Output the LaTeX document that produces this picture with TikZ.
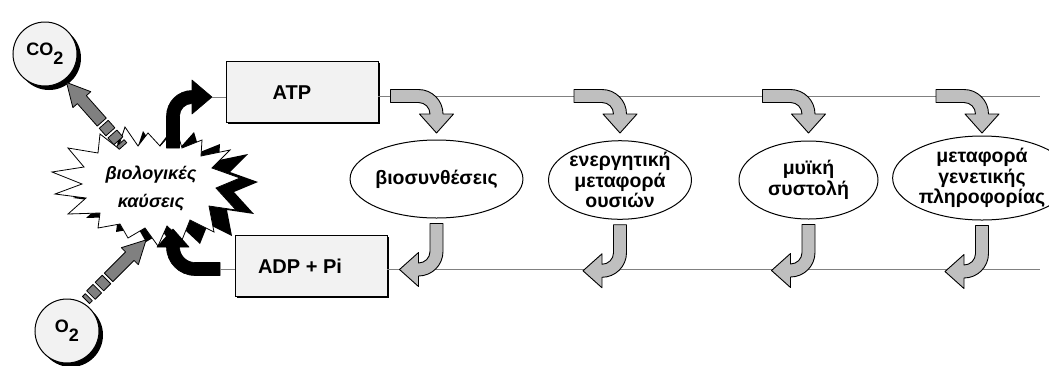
\documentclass[tikz,border=0pt]{standalone}
\usepackage{fontspec}
\setmainfont{Liberation Sans}
\usetikzlibrary{shapes.geometric,shadows}

\tikzset{
  greyturn/.style={fill=black!25, draw=black, line width=0.9pt, line join=round},
  blackturn/.style={fill=black, draw=black, line width=0.6pt, line join=round},
  gasflow/.style={fill=black!50, draw=black, line width=0.8pt, line join=round},
  rail/.style={draw=black!50, line width=0.5pt},
  energybox/.style={rectangle, draw=black, line width=0.8pt, fill=black!5,
    minimum width=152pt, minimum height=61pt, inner sep=0pt,
    drop shadow={shadow xshift=2pt, shadow yshift=-2pt, opacity=1, fill=black}},
  boxtext/.style={font=\fontsize{20}{22}\selectfont\bfseries, inner sep=0pt},
  process/.style={ellipse, draw=black, line width=1pt, fill=white,
    minimum width=139pt, minimum height=78pt, inner sep=0pt, align=center,
    font=\fontsize{19.5}{20.5}\selectfont\bfseries},
  gas/.style={circle, draw=black, line width=1pt, fill=black!5,
    minimum size=64pt, inner sep=0pt,
    font=\fontsize{18}{20}\selectfont\bfseries,
    drop shadow={shadow xshift=4pt, shadow yshift=-4pt, opacity=1, fill=black}},
  bursttext/.style={align=center, inner sep=0pt,
    font=\fontsize{18}{28}\selectfont\bfseries\itshape},
  % grey arrow: enters horizontally, turns down onto a process
  downturn/.pic={
    \path[greyturn] (-46,-6.5) -- (-18,-6.5)
      arc[start angle=-90, end angle=0, radius=24.5]
      -- (17,18) -- (0,37) -- (-17,18) -- (-6.5,18)
      arc[start angle=0, end angle=-90, radius=11.5]
      -- (-46,6.5) -- cycle;
  },
  % grey arrow: leaves a process downwards, turns left onto the lower rail
  leftturn/.pic={
    \path[greyturn] (-6.5,0) -- (6.5,0) -- (6.5,28)
      arc[start angle=0, end angle=90, radius=24.5]
      -- (-18,63) -- (-37,46) -- (-18,29) -- (-18,39.5)
      arc[start angle=90, end angle=0, radius=11.5]
      -- cycle;
  },
  % segmented gas arrow along the local x axis
  gasarrow/.pic={
    \path[gasflow] (0,-5) rectangle (4,5);
    \path[gasflow] (7,-6) rectangle (16,6);
    \path[gasflow] (19,-6) rectangle (29,6);
    \path[gasflow] (32,-6) -- (62,-6) -- (62,-12) -- (85,0)
      -- (62,12) -- (62,6) -- (32,6) -- cycle;
  },
  % explosion outline of the combustion
  burst/.pic={
    \path[pic actions] (52,172) -- (84,167) -- (68,148) -- (98,153)
      -- (100,134) -- (118,148) -- (125,127) -- (138,146) -- (148,133)
      -- (160,146) -- (176,128) -- (182,148) -- (202,140) -- (201,156)
      -- (230,150) -- (212,168) -- (240,178) -- (216,188) -- (236,210)
      -- (209,206) -- (214,232) -- (190,220) -- (182,240) -- (167,226)
      -- (158,246) -- (145,228) -- (128,238) -- (120,224) -- (98,228)
      -- (100,213) -- (68,214) -- (86,198) -- (55,194) -- (82,184) -- cycle;
  },
}

\begin{document}
\begin{tikzpicture}[x=1pt, y=-1pt]
\useasboundingbox (0,0) rectangle (1049,365);

% rails between the energy boxes and the processes
\node[energybox] (atp) at (302,91.5) {};
\node[energybox] (adp) at (311,265.5) {};
\node[boxtext] (atplabel) at ([xshift=-10pt, yshift=-1pt]atp.center) {ATP};
\node[boxtext] (adplabel) at ([xshift=-11pt, yshift=-1pt]adp.center) {ADP + Pi};

\coordinate (toprail) at (1040,96);
\coordinate (botrail) at (1040,269);
\draw[rail] (atp.east |- toprail) -- (toprail);
\draw[rail] (adp.east |- botrail) -- (botrail);

% processes that use ATP
\node[process] (bio) at (436.5,179) {βιοσυνθέσεις};
\node[process] (ene) at (620,180) {ενεργητική\\μεταφορά\\ουσιών};
\node[process] (mys) at (808.5,180) {μυϊκή\\συστολή};
\node[process, minimum width=130pt] (gen) at (982,178) {μεταφορά\\γενετικής\\πληροφορίας};

\foreach \p in {bio,ene,mys,gen}{
  \pic at (\p.center |- toprail) {downturn};
  \pic at ([yshift=-5pt]\p.south) {leftturn};
}

% combustion
\pic[fill=black] at (18,4) {burst};
\pic[fill=white, draw=black, line width=0.8pt, line join=miter] at (0,0) {burst};
\node[bursttext] (burn) at (151,189) {βιολογικές\\καύσεις};

% gases
\node[gas] (co2) at (45,54) {CO\raisebox{-9pt}{2}};
\node[gas] (o2) at (67,331) {O\raisebox{-9pt}{2}};
\pic[rotate=131.6] at (123,146) {gasarrow};
\pic[rotate=45] at (86,300) {gasarrow};

% ATP produced by the combustion
\coordinate (atpin) at (212,97);
\path[blackturn] (166.5,148) -- (166.5,116)
  arc[start angle=180, end angle=270, radius=25.5]
  -- (192,80) -- (atpin) -- (192,114) -- (192,103.5)
  arc[start angle=270, end angle=180, radius=12.5]
  -- (179.5,148) -- cycle;
\draw[rail] (atpin) -- (atpin -| atp.west);

% ADP + Pi returned to the combustion
\coordinate (adpout) at (220,269);
\path[blackturn] (adpout) ++(0,6.5) -- (195,275.5)
  arc[start angle=90, end angle=180, radius=28.5]
  -- (157,247) -- (173,229) -- (189,247) -- (179.5,247)
  arc[start angle=180, end angle=90, radius=15.5]
  -- (220,262.5) -- cycle;
\draw[rail] (adpout) -- (adpout -| adp.west);
\end{tikzpicture}
\end{document}
